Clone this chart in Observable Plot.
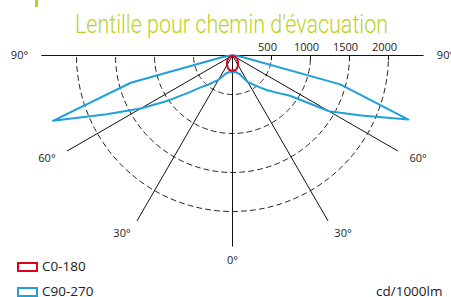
<!DOCTYPE html>
<html>
<head>
<meta charset="utf-8">
<script src="https://cdn.jsdelivr.net/npm/d3@7"></script>
<script src="https://cdn.jsdelivr.net/npm/@observablehq/plot@0.6"></script>
<style>
  body { margin: 0; background: #fff; }
  #wrap { position: relative; width: 451px; height: 297px; overflow: hidden; background: #fff; }
  #chart { position: absolute; left: 0; top: 0; }
  #title { position: absolute; left: 0; top: 0; }
  .frag { position: absolute; left: 35px; top: 0; width: 3px; height: 7px; background: #bcd21a; }
  .lg { position: absolute; font-family: "Open Sans", sans-serif; font-size: 13.5px; line-height: 12px; color: #222; white-space: nowrap; }
  .sw { position: absolute; width: 17px; height: 6px; border: 2px solid; }
</style>
</head>
<body>
<div id="wrap">
  <div id="chart"></div>
  <div class="frag"></div>
  <svg id="title" width="451" height="42">
    <text x="231.5" y="33" text-anchor="middle" textLength="313" lengthAdjust="spacingAndGlyphs"
      font-family="Roboto, 'Liberation Sans Narrow', sans-serif" font-weight="300" font-size="25" fill="#bcd21a">Lentille pour chemin d'évacuation</text>
  </svg>
  <div class="sw" style="left:17px; top:262px; border-color:#e2001a"></div>
  <div class="lg" style="left:42px; top:260px">C0-180</div>
  <div class="sw" style="left:17px; top:287px; border-color:#1fa0dc"></div>
  <div class="lg" style="left:42px; top:285px">C90-270</div>
  <div class="lg" style="left:376px; top:285px">cd/1000lm</div>
</div>
<script>
// ---- data ----
const ticks = [500, 1000, 1500, 2000];
const tickLabels = ["500", "1000", "1500", "2000"];
const degAngles = [-90, -60, -30, 0, 30, 60, 90];
const degLabels = ["90°", "60°", "30°", "0°", "30°", "60°", "90°"];
const rayAngles = [-60, -30, 0, 30, 60];
const blueAngles = [0, 10, 20, 30, 40, 45, 50, 55, 60, 65, 70, 75, 80, 85, 90];
const c90  = [212, 215, 250, 395, 530, 630, 740, 900, 1430, 1820, 2400, 1430, 150, 50, 0];
const c270 = [212, 215, 245, 360, 490, 577, 745, 1010, 1360, 1780, 2450, 1350, 150, 50, 0];
const redAngles = [0, 15, 30, 45, 60, 75, 90];
const c0   = [195, 185, 138, 95, 50, 20, 0];
const c180 = [195, 185, 138, 95, 50, 20, 0];
const axisMax = 2450;

// ---- geometry helpers ----
const rad = Math.PI / 180;
const half = (angles, vals, side) => angles.map((a, i) => ({a, v: vals[i], side}));
const blueRows = [...half(blueAngles, c270, -1).reverse(), ...half(blueAngles, c90, 1)];
const redRows = [...half(redAngles, c180, -1).reverse(), ...half(redAngles, c0, 1)];
const px = d => d.side * d.v * Math.sin(d.a * rad);
const py = d => -d.v * Math.cos(d.a * rad);

const arcRows = [];
for (const r of ticks) for (let a = -90; a <= 90; a += 2) arcRows.push({r, a});
const rays = rayAngles.map(a => ({a}));
const degRows = degAngles.map((a, i) => ({a, label: degLabels[i]}));
const tickRows = ticks.map((t, i) => ({t, label: tickLabels[i]}));

const k = 39 / 500; // px per cd
const cx = 232, cy = 55, W = 451, H = 297;
const labR = 205 / k;
const lx = d => labR * Math.sin(d.a * rad), ly = d => -labR * Math.cos(d.a * rad);
const labStyle = {text: "label", fontFamily: "Open Sans", fontSize: 11, fill: "#222"};

const chart = Plot.plot({
  width: W, height: H, margin: 0,
  style: {background: "transparent"},
  x: {domain: [-cx / k, (W - cx) / k], axis: null},
  y: {domain: [-(H - cy) / k, cy / k], axis: null},
  marks: [
    Plot.line(arcRows, {x: d => d.r * Math.sin(d.a * rad), y: d => -d.r * Math.cos(d.a * rad), z: "r",
      stroke: "#222", strokeWidth: 1, strokeDasharray: "5,4", strokeDashoffset: 7}),
    Plot.link(rays, {x1: 0, y1: 0, x2: d => axisMax * Math.sin(d.a * rad), y2: d => -axisMax * Math.cos(d.a * rad),
      stroke: "#111", strokeWidth: 1}),
    Plot.link([0], {x1: -axisMax, x2: axisMax, y1: 0, y2: 0, stroke: "#111", strokeWidth: 1}),
    Plot.link(tickRows, {x1: "t", x2: "t", y1: 0, y2: -60, stroke: "#111", strokeWidth: 1}),
    Plot.text(tickRows, {x: "t", y: 0, dy: -8, dx: -4, ...labStyle}),
    Plot.text(degRows, {x: lx, y: ly, dx: 0, ...labStyle, filter: d => d.a === 0}),
    Plot.text(degRows, {x: lx, y: ly, dx: -8, ...labStyle, filter: d => d.a < 0}),
    Plot.text(degRows, {x: lx, y: ly, dx: 8, ...labStyle, filter: d => d.a > 0}),
    Plot.line(blueRows, {x: px, y: py, stroke: "#1fa0dc", strokeWidth: 2, curve: "linear"}),
    Plot.line(redRows, {x: px, y: py, stroke: "#e2001a", strokeWidth: 2, curve: "catmull-rom"})
  ]
});
document.getElementById("chart").appendChild(chart);
</script>
</body>
</html>
